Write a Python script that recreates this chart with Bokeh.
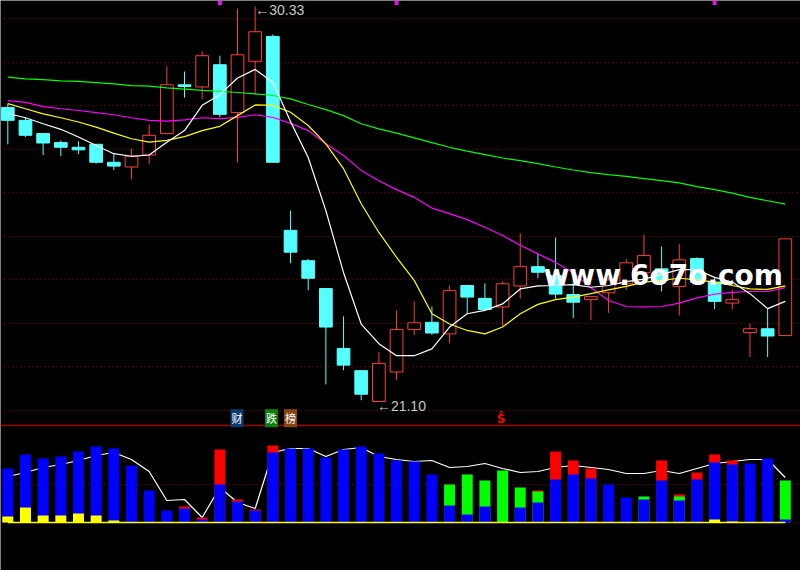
from bokeh.plotting import figure
from bokeh.models import Range1d, Label
from bokeh.core.properties import value
from bokeh.embed import file_html
from bokeh.resources import INLINE

# ---------------- data ----------------
IDX = list(range(45))
OPEN = [27.97, 27.67, 27.36, 27.15, 27.04, 27.11, 26.69, 26.58, 26.86, 27.36,
        28.50, 28.45, 28.97, 27.85, 29.05, 29.63, 25.10, 24.39, 23.74, 22.34,
        21.82, 21.10, 21.79, 22.78, 22.95, 22.68, 23.81, 23.51, 23.31, 23.80,
        24.25, 24.04, 23.60, 23.48, 23.64, 23.85, 24.11, 24.20, 23.79, 24.44,
        23.89, 23.40, 22.71, 22.80, 22.64]
HIGH = [28.06, 27.74, 27.36, 27.20, 27.18, 27.11, 26.89, 27.01, 27.57, 28.93,
        28.81, 29.28, 29.18, 30.28, 30.33, 29.68, 25.56, 24.43, 23.74, 23.09,
        21.82, 22.25, 23.23, 23.44, 23.32, 23.81, 23.83, 23.86, 23.90, 25.03,
        24.55, 24.93, 24.00, 23.55, 24.00, 24.43, 25.00, 24.72, 24.78, 24.47,
        24.00, 23.71, 22.92, 23.26, 24.90]
LOW = [27.11, 27.28, 26.86, 26.83, 26.88, 26.66, 26.51, 26.29, 26.65, 27.36,
       28.20, 28.16, 27.74, 26.69, 28.27, 26.69, 24.33, 23.70, 21.50, 21.83,
       21.13, 21.10, 21.60, 22.65, 22.66, 22.46, 23.15, 23.25, 22.86, 23.51,
       23.98, 23.50, 23.05, 23.00, 23.17, 23.70, 24.02, 23.67, 23.11, 23.89,
       23.26, 23.26, 22.14, 22.14, 22.64]
CLOSE = [27.67, 27.32, 27.14, 27.04, 26.98, 26.69, 26.60, 26.83, 27.32, 28.50,
         28.46, 29.18, 27.81, 29.20, 29.74, 26.69, 24.59, 23.98, 22.84, 21.95,
         21.27, 21.99, 22.78, 22.94, 22.70, 23.69, 23.54, 23.25, 23.85, 24.25,
         24.12, 23.61, 23.42, 23.55, 23.94, 24.34, 24.51, 23.93, 24.41, 23.89,
         23.44, 23.48, 22.80, 22.63, 24.90]

MA5 = [27.83, 27.73, 27.59, 27.46, 27.28, 27.08, 26.89, 26.83, 26.86, 27.16,
       27.43, 28.02, 28.27, 28.66, 28.86, 28.56, 27.64, 26.80, 25.56, 24.11,
       22.91, 22.45, 22.17, 22.17, 22.33, 22.84, 23.15, 23.23, 23.38, 23.73,
       23.80, 23.81, 23.83, 23.77, 23.81, 23.90, 23.96, 24.07, 24.18, 24.18,
       24.00, 23.89, 23.62, 23.27, 23.44]
MA10 = [28.06, 27.94, 27.82, 27.73, 27.63, 27.51, 27.37, 27.24, 27.16, 27.20,
        27.29, 27.43, 27.53, 27.78, 28.03, 28.02, 27.86, 27.55, 27.12, 26.54,
        25.72, 25.05, 24.47, 23.93, 23.15, 22.91, 22.76, 22.68, 22.84, 23.15,
        23.37, 23.48, 23.54, 23.62, 23.71, 23.79, 23.89, 23.93, 23.98, 23.94,
        23.89, 23.81, 23.73, 23.72, 23.80]
MA20 = [28.13, 28.09, 27.99, 27.94, 27.90, 27.85, 27.80, 27.73, 27.67, 27.65,
        27.68, 27.73, 27.71, 27.74, 27.80, 27.74, 27.60, 27.43, 27.12, 26.85,
        26.50, 26.26, 26.05, 25.87, 25.62, 25.49, 25.35, 25.17, 24.98, 24.75,
        24.55, 24.35, 24.11, 23.76, 23.46, 23.32, 23.31, 23.32, 23.40, 23.52,
        23.61, 23.65, 23.67, 23.67, 23.76]
MA60 = [28.68, 28.64, 28.62, 28.59, 28.58, 28.55, 28.52, 28.48, 28.47, 28.43,
        28.40, 28.37, 28.35, 28.32, 28.29, 28.25, 28.17, 28.04, 27.92, 27.78,
        27.59, 27.47, 27.37, 27.26, 27.15, 27.04, 26.95, 26.87, 26.79, 26.73,
        26.66, 26.58, 26.51, 26.45, 26.40, 26.36, 26.31, 26.26, 26.21, 26.12,
        26.05, 25.97, 25.87, 25.79, 25.71]

VOL_BLUE = [54, 68, 64, 66, 71, 76, 74, 57, 32, 12,
            14, 3, 38, 21, 12, 70, 74, 74, 65, 73,
            76, 69, 62, 61, 48, 17, 8, 16, 0, 15,
            20, 43, 48, 44, 38, 25, 23, 42, 22, 43,
            60, 58, 59, 64, 3]
VOL_RED = [0, 0, 0, 0, 0, 0, 0, 0, 0, 0,
           16, 5, 73, 23, 13, 77, 0, 0, 0, 0,
           0, 0, 0, 0, 0, 0, 0, 0, 0, 0,
           32, 71, 62, 54, 0, 0, 0, 62, 28, 50,
           68, 62, 0, 0, 0]
VOL_GREEN = [0, 0, 0, 0, 0, 0, 0, 0, 0, 0,
             0, 0, 0, 0, 0, 0, 0, 0, 0, 0,
             0, 0, 0, 0, 0, 38, 48, 42, 52, 35,
             31, 0, 0, 0, 0, 0, 26, 0, 26, 0,
             0, 0, 0, 0, 42]
VOL_YELLOW = [6, 15, 7, 7, 9, 7, 2, 0, 0, 0,
              0, 0, 0, 0, 0, 0, 0, 0, 0, 0,
              0, 0, 0, 0, 0, 0, 0, 0, 0, 0,
              0, 0, 0, 0, 0, 0, 0, 0, 0, 0,
              3, 1, 0, 0, 0]
VOL_LINE = [46, 50, 55, 58, 62, 67, 70, 63, 51, 22,
            23, 5, 35, 20, 14, 70, 74, 74, 66, 73,
            75, 66, 63, 61, 62, 55, 56, 59, 54, 50,
            51, 55, 57, 55, 53, 49, 49, 52, 49, 54,
            59, 61, 63, 63, 45]

GRID_LEVELS = [30.04, 29.03, 28.01, 26.99, 25.98, 24.96, 23.94, 22.93, 21.91, 20.89]
VOL_GRID = [38, 0]
VOL_SEPARATOR = [97]
SIGNAL_IDX = [12, 22, 40]
SIGNAL_Y = [30.41, 30.41, 30.41]
TAG_X = [12.97, 14.92, 16.0]
TAG_Y = [20.71, 20.71, 20.71]
TAG_TEXT = ["财", "跌", "榜"]
TAG_BG = ["#0e3a72", "#0a800a", "#8b4513"]
S_X = [27.92]
S_Y = [20.70]

# ---------------- figure ----------------
p = figure(width=800, height=570, x_range=Range1d(-0.413, 44.86),
           y_range=Range1d(17.151, 30.47), output_backend="svg",
           toolbar_location=None, x_axis_location=None, y_axis_location=None,
           background_fill_color="black", border_fill_color="black",
           outline_line_color=None, min_border=0)
p.grid.visible = False
p.extra_y_ranges = {"vol": Range1d(-48, 522)}

RED = "#ff3c3c"
CYAN = "#54ffff"

# grid (dotted red)
p.hspan(y=GRID_LEVELS, line_color="#a00000", line_dash="1 3", line_width=1)
p.hspan(y=VOL_GRID, line_color="#a00000", line_dash="1 3", line_width=1, y_range_name="vol")
p.hspan(y=VOL_SEPARATOR, line_color="#a00000", line_width=1.5, y_range_name="vol")

# candles
up = [c >= o for o, c in zip(OPEN, CLOSE)]
ccol = [RED if u else CYAN for u in up]
fcol = ["black" if u else CYAN for u in up]
p.segment(x0=IDX, y0=LOW, x1=IDX, y1=HIGH, line_color=ccol, line_width=1)
p.vbar(x=IDX, width=0.72, top=[max(o, c) for o, c in zip(OPEN, CLOSE)],
       bottom=[min(o, c) for o, c in zip(OPEN, CLOSE)],
       fill_color=fcol, line_color=ccol, line_width=1)

# moving averages
p.line(IDX, MA60, line_color="#00ff00", line_width=1.2)
p.line(IDX, MA20, line_color="#ff00ff", line_width=1.2)
p.line(IDX, MA10, line_color="#ffff00", line_width=1.2)
p.line(IDX, MA5, line_color="#ffffff", line_width=1.2)

# bottom panel
p.line(IDX, VOL_LINE, line_color="white", line_width=1.2, y_range_name="vol")
for vals, col in ((VOL_RED, "#ff0000"), (VOL_GREEN, "#00ff00"),
                  (VOL_BLUE, "#0000ff"), (VOL_YELLOW, "#ffff00")):
    xs = [i for i, v in zip(IDX, vals) if v > 0]
    ts = [v for v in vals if v > 0]
    p.vbar(x=xs, width=0.62, top=ts, bottom=0, fill_color=col, line_color=None,
           y_range_name="vol")
p.line(IDX, [0] * len(IDX), line_color="#ffff00", line_width=1.5, y_range_name="vol")

# signals and labels
p.scatter(x=SIGNAL_IDX, y=SIGNAL_Y, marker="square", size=4, fill_color="#ff00ff",
          line_color=None)
imax = HIGH.index(max(HIGH))
imin = LOW.index(min(LOW))
p.text(x=[imax], y=[HIGH[imax]], text=["\u2190%.2f" % HIGH[imax]], text_color="#c8c8c8",
       text_font=value("Liberation Sans"), text_font_size="14px",
       text_baseline="middle", text_align="left", y_offset=4)
p.text(x=[imin], y=[LOW[imin]], text=["\u2190%.2f" % LOW[imin]], text_color="#c8c8c8",
       text_font=value("Liberation Sans"), text_font_size="14px",
       text_baseline="middle", text_align="left", x_offset=-2, y_offset=5)
p.text(x=TAG_X, y=TAG_Y, text=TAG_TEXT, text_color="white",
       text_font=value("Noto Sans CJK SC"), text_font_size="11px",
       text_baseline="middle", text_align="center",
       background_fill_color=TAG_BG, padding=1)
p.text(x=S_X, y=S_Y, text=["\u015c"], text_color="#ff0000",
       text_font=value("DejaVu Sans"), text_font_size="12px", text_font_style="bold",
       text_baseline="middle", text_align="center")

p.add_layout(Label(x=543, y=295, x_units="screen", y_units="screen",
                   text="www.6o7o.com", text_color="white",
                   text_font="DejaVu Sans", text_font_size="28px",
                   text_font_style="bold", text_baseline="alphabetic"))

open("out.html", "w").write(file_html(p, INLINE))
